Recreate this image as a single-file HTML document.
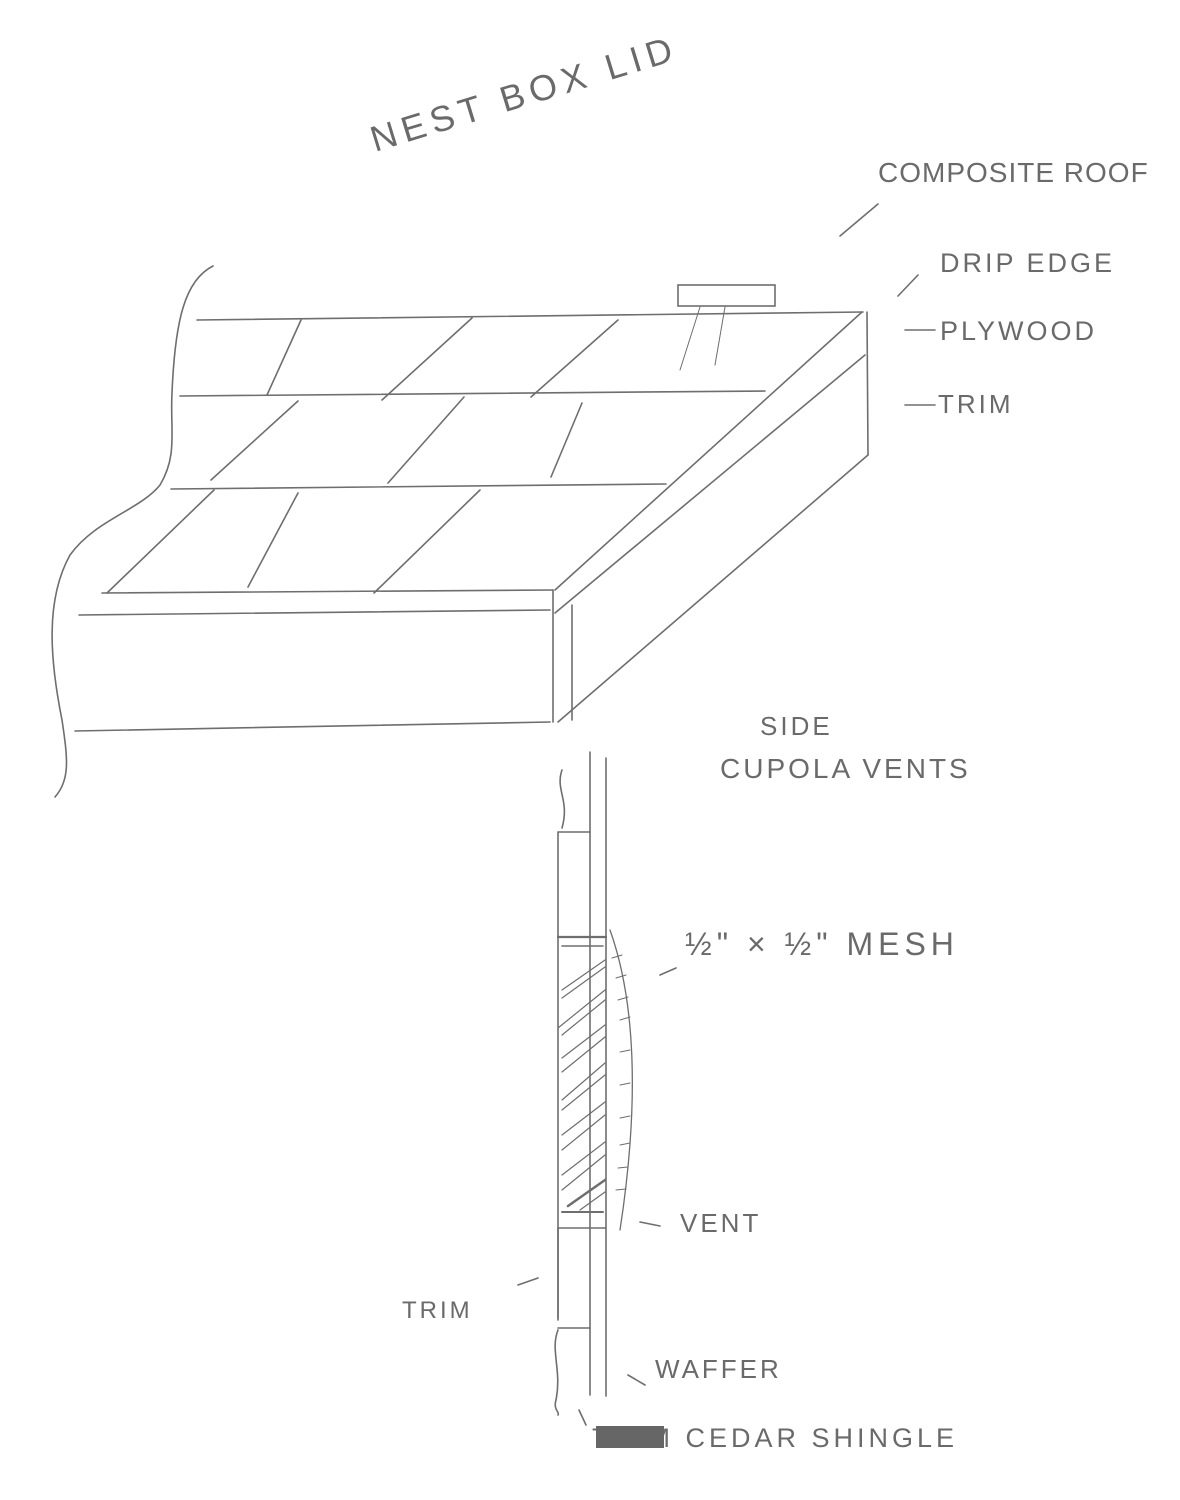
<!DOCTYPE html>
<html><head><meta charset="utf-8"><style>
html,body{margin:0;padding:0;background:#fff;}
svg{display:block;}
text{font-family:"Liberation Sans",sans-serif;fill:#6a6a6a;font-weight:normal;}
</style></head><body>
<svg width="1180" height="1500" viewBox="0 0 1180 1500" xmlns="http://www.w3.org/2000/svg">
<g stroke="#6e6e6e" stroke-width="1.6" fill="none" stroke-linecap="round">
<path d="M213,266 C185,280 175,320 172,393 C170,430 178,455 160,485 C140,510 95,520 70,555 C45,600 50,660 62,720 C68,760 70,780 55,797"/>
<line x1="197" y1="320" x2="863" y2="312"/>
<line x1="180" y1="396" x2="765" y2="391"/>
<line x1="171" y1="489" x2="666" y2="484"/>
<line x1="102" y1="593" x2="553" y2="590"/>
<line x1="79" y1="615" x2="550" y2="610"/>
<line x1="75" y1="731" x2="550" y2="722"/>
<line x1="301" y1="320" x2="267" y2="395"/>
<line x1="472" y1="318" x2="382" y2="400"/>
<line x1="618" y1="320" x2="531" y2="397"/>
<line x1="298" y1="401" x2="211" y2="480"/>
<line x1="464" y1="397" x2="388" y2="483"/>
<line x1="582" y1="403" x2="551" y2="477"/>
<line x1="214" y1="490" x2="107" y2="593"/>
<line x1="298" y1="493" x2="248" y2="587"/>
<line x1="480" y1="490" x2="374" y2="593"/>
<line x1="553" y1="590" x2="553" y2="722"/>
<line x1="572" y1="605" x2="572" y2="720"/>
<line x1="862" y1="312" x2="555" y2="590"/>
<line x1="865" y1="355" x2="555" y2="613"/>
<line x1="867" y1="312" x2="868" y2="455"/>
<line x1="868" y1="455" x2="558" y2="722"/>
<rect x="678" y="285" width="97" height="21"/>
<path d="M700,307 L680,370 M725,307 L715,365" stroke-width="1"/>
<line x1="878" y1="204" x2="840" y2="236"/>
<line x1="918" y1="275" x2="898" y2="296"/>
<line x1="905" y1="330" x2="935" y2="330"/>
<line x1="905" y1="405" x2="935" y2="405"/>
<line x1="590" y1="752" x2="590" y2="1395"/>
<line x1="606" y1="758" x2="606" y2="1396"/>
<path d="M562,770 C555,790 570,800 562,828"/>
<line x1="558" y1="832" x2="590" y2="832"/>
<line x1="558" y1="832" x2="558" y2="1318"/>
<line x1="558" y1="937" x2="606" y2="937" stroke-width="2.2"/>
<line x1="562" y1="946" x2="603" y2="946"/>
<line x1="562" y1="1212" x2="603" y2="1212" stroke-width="2"/>
<line x1="558" y1="1228" x2="606" y2="1228"/>
<path d="M610,930 C635,1000 640,1100 620,1230" stroke-width="1.3"/>
<g stroke-width="1.2">
<line x1="605" y1="960" x2="562" y2="990"/>
<line x1="605" y1="967" x2="562" y2="998"/>
<line x1="605" y1="990" x2="558" y2="1028"/>
<line x1="605" y1="1000" x2="562" y2="1035"/>
<line x1="605" y1="1025" x2="562" y2="1058"/>
<line x1="605" y1="1037" x2="562" y2="1072"/>
<line x1="605" y1="1063" x2="562" y2="1100"/>
<line x1="605" y1="1075" x2="562" y2="1110"/>
<line x1="605" y1="1102" x2="562" y2="1135"/>
<line x1="605" y1="1115" x2="562" y2="1150"/>
<line x1="605" y1="1142" x2="562" y2="1175"/>
<line x1="605" y1="1155" x2="562" y2="1190"/>
<line x1="605" y1="1180" x2="568" y2="1206" stroke-width="2.5"/>
<line x1="605" y1="1192" x2="580" y2="1210"/>
</g>
<g stroke-width="1">
<line x1="612" y1="958" x2="622" y2="955"/><line x1="616" y1="978" x2="626" y2="975"/>
<line x1="618" y1="1000" x2="628" y2="997"/><line x1="620" y1="1020" x2="630" y2="1017"/>
<line x1="620" y1="1052" x2="630" y2="1050"/><line x1="620" y1="1085" x2="630" y2="1083"/>
<line x1="620" y1="1118" x2="630" y2="1116"/><line x1="620" y1="1145" x2="630" y2="1143"/>
<line x1="618" y1="1168" x2="628" y2="1167"/><line x1="616" y1="1190" x2="626" y2="1189"/>
</g>
<line x1="558" y1="1228" x2="558" y2="1320"/>
<line x1="558" y1="1328" x2="590" y2="1328"/>
<path d="M558,1330 C550,1350 562,1370 556,1400 C553,1410 560,1412 558,1415"/>
<line x1="579" y1="1410" x2="586" y2="1425"/>
<line x1="518" y1="1285" x2="538" y2="1278"/>
<line x1="628" y1="1375" x2="645" y2="1385"/>
<line x1="640" y1="1222" x2="660" y2="1226"/>
<line x1="660" y1="975" x2="676" y2="968"/>
</g>
<g font-size="30" letter-spacing="3">
<text x="375" y="152" transform="rotate(-17 375 152)" font-size="36" letter-spacing="6">NEST BOX LID</text>
<text x="878" y="182" font-size="28" letter-spacing="1">COMPOSITE ROOF</text>
<text x="940" y="272" font-size="27">DRIP EDGE</text>
<text x="940" y="340" font-size="27">PLYWOOD</text>
<text x="938" y="413" font-size="26">TRIM</text>
<text x="760" y="735" font-size="26">SIDE</text>
<text x="720" y="778" font-size="28">CUPOLA VENTS</text>
<text x="685" y="955" font-size="32" letter-spacing="5">½" × ½" MESH</text>
<text x="680" y="1232" font-size="26">VENT</text>
<text x="402" y="1318" font-size="24">TRIM</text>
<text x="655" y="1378" font-size="26">WAFFER</text>
<text x="592" y="1447" font-size="27" letter-spacing="4">TRIM CEDAR SHINGLE</text>
</g>
<rect x="596" y="1426" width="68" height="22" fill="#666"/>
</svg>
</body></html>
